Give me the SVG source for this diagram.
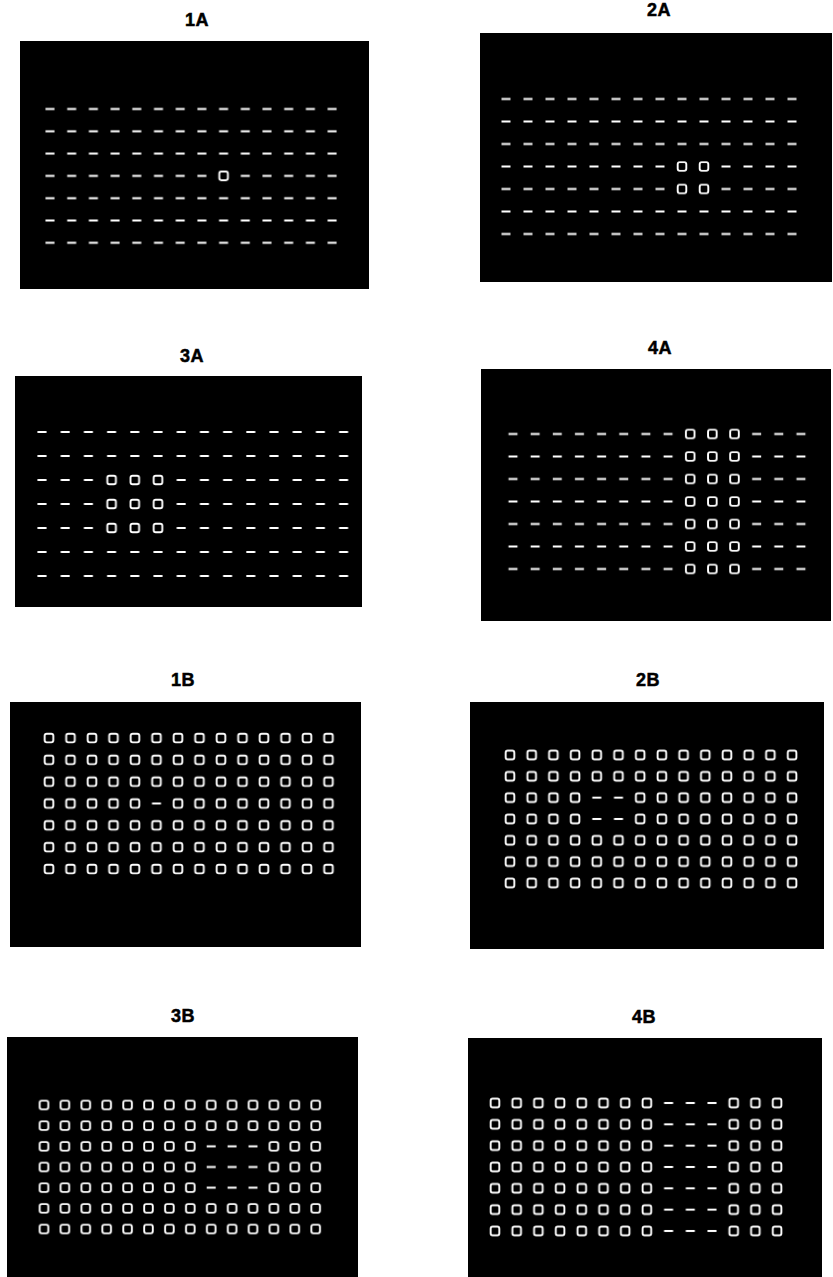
<svg xmlns="http://www.w3.org/2000/svg" xmlns:xlink="http://www.w3.org/1999/xlink" width="833" height="1277" viewBox="0 0 833 1277">
<style>
.lbl{font-family:"Liberation Sans",Arial,sans-serif;font-weight:bold;font-size:18px;fill:#000;stroke:#000;stroke-width:0.5;letter-spacing:0.6px;text-anchor:middle}
.bg{fill:#000}
</style>
<defs>
<rect id="dash" x="-4.5" y="-1" width="9" height="2" fill="#fff"/>
<rect id="sq" x="-4.3" y="-4.3" width="8.6" height="8.6" rx="2" fill="none" stroke="#fff" stroke-width="1.9"/>
<pattern id="d1a" patternUnits="userSpaceOnUse" x="39.15" y="97.85" width="21.7" height="22.3"><rect width="21.7" height="22.3" fill="#000"/><use href="#dash" x="10.85" y="11.15"/></pattern>
<pattern id="s1a" patternUnits="userSpaceOnUse" x="39.15" y="97.85" width="21.7" height="22.3"><rect width="21.7" height="22.3" fill="#000"/><use href="#sq" x="10.85" y="11.15"/></pattern>
<pattern id="d2a" patternUnits="userSpaceOnUse" x="495" y="87.75" width="22" height="22.5"><rect width="22" height="22.5" fill="#000"/><use href="#dash" x="11" y="11.25"/></pattern>
<pattern id="s2a" patternUnits="userSpaceOnUse" x="495" y="87.75" width="22" height="22.5"><rect width="22" height="22.5" fill="#000"/><use href="#sq" x="11" y="11.25"/></pattern>
<pattern id="d3a" patternUnits="userSpaceOnUse" x="30.4" y="420" width="23.2" height="24"><rect width="23.2" height="24" fill="#000"/><use href="#dash" x="11.6" y="12"/></pattern>
<pattern id="s3a" patternUnits="userSpaceOnUse" x="30.4" y="420" width="23.2" height="24"><rect width="23.2" height="24" fill="#000"/><use href="#sq" x="11.6" y="12"/></pattern>
<pattern id="d4a" patternUnits="userSpaceOnUse" x="501.925" y="422.75" width="22.15" height="22.5"><rect width="22.15" height="22.5" fill="#000"/><use href="#dash" x="11.075" y="11.25"/></pattern>
<pattern id="s4a" patternUnits="userSpaceOnUse" x="501.925" y="422.75" width="22.15" height="22.5"><rect width="22.15" height="22.5" fill="#000"/><use href="#sq" x="11.075" y="11.25"/></pattern>
<pattern id="d1b" patternUnits="userSpaceOnUse" x="38.25" y="727.08" width="21.5" height="21.83"><rect width="21.5" height="21.83" fill="#000"/><use href="#dash" x="10.75" y="10.92"/></pattern>
<pattern id="s1b" patternUnits="userSpaceOnUse" x="38.25" y="727.08" width="21.5" height="21.83"><rect width="21.5" height="21.83" fill="#000"/><use href="#sq" x="10.75" y="10.92"/></pattern>
<pattern id="d2b" patternUnits="userSpaceOnUse" x="499.15" y="744.33" width="21.7" height="21.33"><rect width="21.7" height="21.33" fill="#000"/><use href="#dash" x="10.85" y="10.67"/></pattern>
<pattern id="s2b" patternUnits="userSpaceOnUse" x="499.15" y="744.33" width="21.7" height="21.33"><rect width="21.7" height="21.33" fill="#000"/><use href="#sq" x="10.85" y="10.67"/></pattern>
<pattern id="d3b" patternUnits="userSpaceOnUse" x="33.55" y="1094.67" width="20.9" height="20.67"><rect width="20.9" height="20.67" fill="#000"/><use href="#dash" x="10.45" y="10.33"/></pattern>
<pattern id="s3b" patternUnits="userSpaceOnUse" x="33.55" y="1094.67" width="20.9" height="20.67"><rect width="20.9" height="20.67" fill="#000"/><use href="#sq" x="10.45" y="10.33"/></pattern>
<pattern id="d4b" patternUnits="userSpaceOnUse" x="484.15" y="1092.33" width="21.7" height="21.33"><rect width="21.7" height="21.33" fill="#000"/><use href="#dash" x="10.85" y="10.67"/></pattern>
<pattern id="s4b" patternUnits="userSpaceOnUse" x="484.15" y="1092.33" width="21.7" height="21.33"><rect width="21.7" height="21.33" fill="#000"/><use href="#sq" x="10.85" y="10.67"/></pattern>
</defs>
<rect width="833" height="1277" fill="#fff"/>

<g id="panel-1A">
<text class="lbl" x="197" y="26">1A</text>
<rect class="bg" x="20" y="41" width="349" height="248"/>
<rect x="39.15" y="97.85" width="303.8" height="156.1" fill="url(#d1a)"/>
<rect x="212.75" y="164.75" width="21.7" height="22.3" fill="url(#s1a)"/>
</g>

<g id="panel-2A">
<text class="lbl" x="659" y="16">2A</text>
<rect class="bg" x="480" y="33" width="352" height="249"/>
<rect x="495" y="87.75" width="308" height="157.5" fill="url(#d2a)"/>
<rect x="671" y="155.25" width="44" height="45" fill="url(#s2a)"/>
</g>

<g id="panel-3A">
<text class="lbl" x="192" y="362">3A</text>
<rect class="bg" x="15" y="376" width="347" height="231"/>
<rect x="30.4" y="420" width="324.8" height="168" fill="url(#d3a)"/>
<rect x="100" y="468" width="69.6" height="72" fill="url(#s3a)"/>
</g>

<g id="panel-4A">
<text class="lbl" x="660" y="354">4A</text>
<rect class="bg" x="481" y="369" width="350" height="252"/>
<rect x="501.925" y="422.75" width="310.1" height="157.5" fill="url(#d4a)"/>
<rect x="679.125" y="422.75" width="66.45" height="157.5" fill="url(#s4a)"/>
</g>

<g id="panel-1B">
<text class="lbl" x="183" y="686">1B</text>
<rect class="bg" x="10" y="702" width="351" height="245"/>
<rect x="38.25" y="727.08" width="301" height="152.81" fill="url(#s1b)"/>
<rect x="145.75" y="792.57" width="21.5" height="21.83" fill="url(#d1b)"/>
</g>

<g id="panel-2B">
<text class="lbl" x="648" y="686">2B</text>
<rect class="bg" x="470" y="702" width="354" height="247"/>
<rect x="499.15" y="744.33" width="303.8" height="149.31" fill="url(#s2b)"/>
<rect x="585.95" y="786.99" width="43.4" height="42.66" fill="url(#d2b)"/>
</g>

<g id="panel-3B">
<text class="lbl" x="183" y="1022">3B</text>
<rect class="bg" x="7" y="1037" width="351" height="240"/>
<rect x="33.55" y="1094.67" width="292.6" height="144.69" fill="url(#s3b)"/>
<rect x="200.75" y="1136.01" width="62.7" height="62.01" fill="url(#d3b)"/>
</g>

<g id="panel-4B">
<text class="lbl" x="644" y="1023">4B</text>
<rect class="bg" x="468" y="1038" width="354" height="239"/>
<rect x="484.15" y="1092.33" width="303.8" height="149.31" fill="url(#s4b)"/>
<rect x="657.75" y="1092.33" width="65.1" height="149.31" fill="url(#d4b)"/>
</g>
</svg>
